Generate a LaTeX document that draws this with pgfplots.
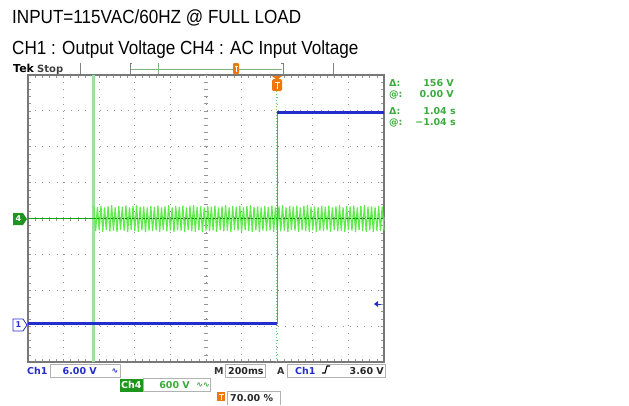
\documentclass[border=0pt]{standalone}
\usepackage{pgfplots}
\pgfplotsset{compat=1.18}
\usepackage{fontspec}
\setmainfont{Liberation Sans}
\newfontfamily\titlefont[FakeStretch=0.9]{Liberation Sans}
\newfontfamily\tek{DejaVu Sans}
\definecolor{tekblue}{RGB}{35,45,205}
\definecolor{edgeblue}{RGB}{110,130,240}
\definecolor{bandgreen}{RGB}{95,235,75}
\definecolor{trgreen}{RGB}{20,165,20}
\definecolor{cursorgreen}{RGB}{160,222,160}
\definecolor{readgreen}{RGB}{60,170,60}
\definecolor{boxgreen}{RGB}{30,150,30}
\definecolor{tekorange}{RGB}{240,120,10}
\definecolor{framegray}{RGB}{120,120,120}
\definecolor{gridgray}{RGB}{150,150,150}
\begin{document}
\begin{tikzpicture}
\begin{axis}[
  at={(28pt,-362pt)}, anchor=south west,
  scale only axis, width=356pt, height=287pt,
  xmin=0, xmax=10, ymin=0, ymax=8, clip=false,
  axis line style={draw=framegray, line width=2pt},
  xtick={0,...,10}, ytick={0,...,8},
  minor x tick num=4, minor y tick num=4,
  xticklabels={}, yticklabels={},
  tick align=inside, major tick length=3pt, minor tick length=3pt,
  tick style={draw=gridgray, line width=0.6pt},
  xtick pos=both, ytick pos=both,
  grid=major,
  major grid style={draw=gridgray, line width=0.9pt, dash pattern=on 0.9pt off 6.25pt},
]
% centre cross ticks
\pgfplotsinvokeforeach{0.2,0.4,...,7.9}{\draw[gridgray, line width=0.6pt] ([xshift=-2pt]axis cs:5,#1) -- ([xshift=2pt]axis cs:5,#1);}
\pgfplotsinvokeforeach{0.2,0.4,...,9.9}{\draw[gridgray, line width=0.6pt] ([yshift=-2pt]axis cs:#1,4) -- ([yshift=2pt]axis cs:#1,4);}
% cursor
\addplot[cursorgreen, line width=3pt] coordinates {(1.83,0)(1.83,8)};
% trigger position line
\addplot[trgreen!60, line width=0.9pt, dash pattern=on 1.5pt off 1.5pt] coordinates {(6.97,0)(6.97,7.6)};
% CH4 AC input
\addplot[bandgreen, line width=1.2pt] coordinates {
(1.85,4.35)(1.90,3.65)(1.95,4.32)(2.00,3.67)(2.05,4.36)(2.10,3.63)(2.15,4.31)(2.20,3.68)
(2.25,4.34)(2.30,3.64)(2.35,4.37)(2.40,3.66)(2.45,4.31)(2.50,3.62)(2.55,4.35)(2.60,3.68)
(2.65,4.33)(2.70,3.66)(2.75,4.36)(2.80,3.62)(2.85,4.31)(2.90,3.68)(2.95,4.35)(3.00,3.65)
(3.05,4.37)(3.10,3.63)(3.15,4.32)(3.20,3.67)(3.25,4.34)(3.30,3.62)(3.35,4.31)(3.40,3.66)
(3.45,4.35)(3.50,3.65)(3.55,4.32)(3.60,3.67)(3.65,4.36)(3.70,3.63)(3.75,4.31)(3.80,3.68)
(3.85,4.34)(3.90,3.64)(3.95,4.37)(4.00,3.66)(4.05,4.31)(4.10,3.62)(4.15,4.35)(4.20,3.68)
(4.25,4.33)(4.30,3.66)(4.35,4.36)(4.40,3.62)(4.45,4.31)(4.50,3.68)(4.55,4.35)(4.60,3.65)
(4.65,4.37)(4.70,3.63)(4.75,4.32)(4.80,3.67)(4.85,4.34)(4.90,3.62)(4.95,4.31)(5.00,3.66)
(5.05,4.35)(5.10,3.65)(5.15,4.32)(5.20,3.67)(5.25,4.36)(5.30,3.63)(5.35,4.31)(5.40,3.68)
(5.45,4.34)(5.50,3.64)(5.55,4.37)(5.60,3.66)(5.65,4.31)(5.70,3.62)(5.75,4.35)(5.80,3.68)
(5.85,4.33)(5.90,3.66)(5.95,4.36)(6.00,3.62)(6.05,4.31)(6.10,3.68)(6.15,4.35)(6.20,3.65)
(6.25,4.37)(6.30,3.63)(6.35,4.32)(6.40,3.67)(6.45,4.34)(6.50,3.62)(6.55,4.31)(6.60,3.66)
(6.65,4.35)(6.70,3.65)(6.75,4.32)(6.80,3.67)(6.85,4.36)(6.90,3.63)(6.95,4.31)(7.00,3.68)
(7.05,4.34)(7.10,3.64)(7.15,4.37)(7.20,3.66)(7.25,4.31)(7.30,3.62)(7.35,4.35)(7.40,3.68)
(7.45,4.33)(7.50,3.66)(7.55,4.36)(7.60,3.62)(7.65,4.31)(7.70,3.68)(7.75,4.35)(7.80,3.65)
(7.85,4.37)(7.90,3.63)(7.95,4.32)(8.00,3.67)(8.05,4.34)(8.10,3.62)(8.15,4.31)(8.20,3.66)
(8.25,4.35)(8.30,3.65)(8.35,4.32)(8.40,3.67)(8.45,4.36)(8.50,3.63)(8.55,4.31)(8.60,3.68)
(8.65,4.34)(8.70,3.64)(8.75,4.37)(8.80,3.66)(8.85,4.31)(8.90,3.62)(8.95,4.35)(9.00,3.68)
(9.05,4.33)(9.10,3.66)(9.15,4.36)(9.20,3.62)(9.25,4.31)(9.30,3.68)(9.35,4.35)(9.40,3.65)
(9.45,4.37)(9.50,3.63)(9.55,4.32)(9.60,3.67)(9.65,4.34)(9.70,3.62)(9.75,4.31)(9.80,3.66)
(9.85,4.35)(9.90,3.65)(9.95,4.33)(10.00,3.67)};
\addplot[trgreen, line width=1.8pt] coordinates {(0,4.0)(1.85,4.0)};
\addplot[trgreen!85!black, line width=0.8pt, dash pattern=on 2pt off 1.5pt] coordinates {(1.85,4.0)(10,4.0)};
% CH1 output voltage
\addplot[tekblue, line width=3pt] coordinates {(0,1.06)(7.0,1.06)};
\addplot[edgeblue, line width=1.0pt] coordinates {(7.02,1.06)(7.02,6.96)};
\addplot[tekblue, line width=3pt] coordinates {(7.0,6.96)(10,6.96)};
\end{axis}
\begin{scope}[x=1pt,y=-1pt]
% titles
\node[anchor=base west, inner sep=0pt, font=\titlefont\fontsize{19}{22}\selectfont] at (12,23) {INPUT=115VAC/60HZ @ FULL LOAD};
\node[anchor=base west, inner sep=0pt, font=\titlefont\fontsize{19}{22}\selectfont] at (12,54) {CH1 : Output Voltage CH4 : AC Input Voltage};
% top bar
\node[anchor=base west, inner sep=0pt, font=\tek\bfseries\fontsize{11}{12}\selectfont] at (13,72) {Tek};
\node[anchor=base west, inner sep=0pt, text=black!75, font=\tek\bfseries\fontsize{10}{12}\selectfont] at (37,72) {Stop};
\draw[gray, line width=0.8pt] (80,63) -- (80,74);
\draw[gray, line width=0.8pt] (333,63) -- (333,74);
\draw[gray, line width=0.8pt] (132,63) -- (130,63) -- (130,74) -- (132,74);
\draw[gray, line width=0.8pt] (281,63) -- (283,63) -- (283,74) -- (281,74);
\draw[cursorgreen!80!black, line width=0.9pt] (131,69) -- (282,69);
\draw[cursorgreen!80!black, line width=0.9pt] (158,63) -- (158,74);
\fill[tekorange, rounded corners=1pt] (233,63) rectangle (239,74);
\draw[white, line width=0.7pt] (234.5,66) -- (237.5,66) (236,66) -- (236,72);
% trigger position marker
\fill[tekorange] (272,76) -- (282,76) -- (277,80) -- cycle;
\fill[tekorange, rounded corners=1.5pt] (272,79) rectangle (282,91);
\draw[white, line width=1pt] (274.5,82) -- (279.5,82) (277,82) -- (277,89);
% channel markers
\draw[tekblue, fill=white, line width=0.8pt] (13,319) -- (23,319) -- (27,325) -- (23,331) -- (13,331) -- cycle;
\node[text=tekblue, inner sep=0pt, font=\tek\bfseries\fontsize{8}{9}\selectfont] at (18.5,325) {1};
\fill[boxgreen] (13,213) -- (23,213) -- (27,219) -- (23,225) -- (13,225) -- cycle;
\node[text=white, inner sep=0pt, font=\tek\bfseries\fontsize{8}{9}\selectfont] at (18.5,219) {4};
% trigger level arrow
\fill[tekblue] (374,304) -- (378,301) -- (378,307) -- cycle;
\draw[tekblue, line width=1pt] (377,304) -- (381,304);
% readouts
\begin{scope}[every node/.style={inner sep=0pt, text=readgreen, font=\tek\bfseries\fontsize{9.5}{11}\selectfont}]
\node[anchor=base west] at (389,86) {Δ:};
\node[anchor=base west] at (389,97) {@:};
\node[anchor=base west] at (389,114) {Δ:};
\node[anchor=base west] at (389,125) {@:};
\node[anchor=base east] at (454,86) {156 V};
\node[anchor=base east] at (454,97) {0.00 V};
\node[anchor=base east] at (456,114) {1.04 s};
\node[anchor=base east] at (456,125) {−1.04 s};
\end{scope}
% bottom status
\begin{scope}[every node/.style={inner sep=0pt, font=\tek\bfseries\fontsize{9.5}{11}\selectfont}]
\node[anchor=base west, text=tekblue] at (27,374) {Ch1};
\draw[gray!60, line width=0.8pt] (50,364.5) rectangle (120,377.5);
\node[anchor=base east, text=tekblue] at (97,374) {6.00 V};
\node[anchor=base, text=tekblue, font=\tek\bfseries\fontsize{8}{9}\selectfont] at (115,373) {∿};
\node[anchor=base west, text=black!80] at (214,374) {M};
\draw[gray!60, line width=0.8pt] (225,364.5) rectangle (265,377.5);
\node[anchor=base west, text=black!85] at (228,374) {200ms};
\node[anchor=base west, text=black!80] at (277,374) {A};
\draw[gray!60, line width=0.8pt] (287,364.5) rectangle (385,377.5);
\node[anchor=base west, text=tekblue] at (295,374) {Ch1};
\draw[black, line width=1.1pt] (322,373) -- (325,373) -- (327,366) -- (330,366);
\node[anchor=base east, text=black!85] at (384,374) {3.60 V};
\fill[boxgreen] (120,378.5) rectangle (143,391.5);
\node[anchor=base west, text=white] at (121,388) {Ch4};
\draw[gray!60, line width=0.8pt] (143,378.5) rectangle (210,391.5);
\node[anchor=base east, text=readgreen] at (190,388) {600 V};
\node[anchor=base, text=readgreen, font=\tek\bfseries\fontsize{8}{9}\selectfont] at (203,387) {∿∿};
\fill[tekorange] (217,392) rectangle (225,401);
\draw[white, line width=0.8pt] (218.5,394) -- (223.5,394) (221,394) -- (221,400);
\draw[gray!60, line width=0.8pt] (227,391.5) -- (227,405) (227,391.5) -- (280,391.5) -- (280,405);
\node[anchor=base west, text=black!85] at (230,401) {70.00 \%};
\end{scope}
\end{scope}
\pgfresetboundingbox
\useasboundingbox (0pt,0pt) rectangle (629pt,-405pt);
\end{tikzpicture}
\end{document}
